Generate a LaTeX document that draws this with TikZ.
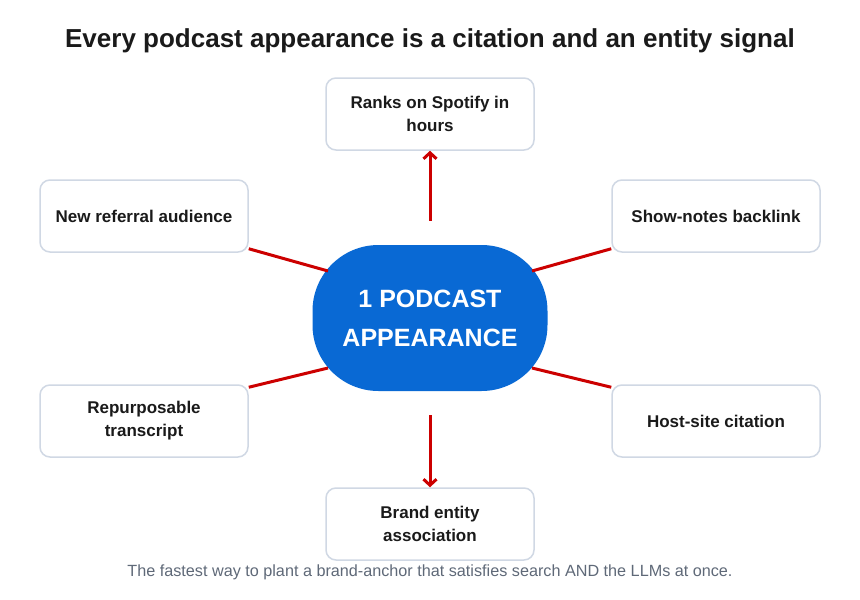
\documentclass[tikz,border=0pt]{standalone}
\usepackage{fontspec}
\setmainfont{Liberation Sans}
\usetikzlibrary{arrows.meta,calc}
\definecolor{cblue}{RGB}{9,105,212}
\definecolor{cred}{RGB}{204,0,0}
\definecolor{cborder}{RGB}{208,216,228}
\definecolor{cgrey}{RGB}{95,105,120}
\definecolor{ctext}{RGB}{26,26,26}
\begin{document}
\begin{tikzpicture}[x=1pt,y=-1pt,
  box/.style={draw=cborder, line width=1.5pt, fill=white, rounded corners=10pt,
    minimum width=208pt, minimum height=72pt, inner sep=0pt, align=center,
    font=\fontsize{17}{23}\selectfont\bfseries, text=ctext},
  hub/.style={fill=cblue, rounded corners=66pt, minimum width=235pt, minimum height=146pt,
    inner sep=0pt, align=center, text=white, font=\fontsize{25}{39}\selectfont\bfseries},
  link/.style={draw=cred, line width=3pt},
  arrowlink/.style={link, -{Straight Barb[length=6pt,width=13pt,line width=3pt]}}
]
\useasboundingbox (0,0) rectangle (860,600);
\fill[white] (0,0) rectangle (860,600);
\node[font=\fontsize{26}{30}\selectfont\bfseries, text=ctext] (title) at (430,41) {Every podcast appearance is a citation and an entity signal};
\node[hub] (c) at (430,318) {1 PODCAST\\APPEARANCE};
\node[box] (top) at (430,114) {Ranks on Spotify in\\hours};
\node[box] (lt) at (144,216) {New referral audience};
\node[box] (rt) at (716,216) {Show-notes backlink};
\node[box] (lb) at (144,421) {Repurposable\\transcript};
\node[box] (rb) at (716,421) {Host-site citation};
\node[box] (bot) at (430,524) {Brand entity\\association};
\node[font=\fontsize{16.2}{19}\selectfont, text=cgrey] (cap) at (430,572) {The fastest way to plant a brand-anchor that satisfies search AND the LLMs at once.};
\draw[arrowlink, shorten <=24pt] (c) -- (top);
\draw[arrowlink, shorten <=24pt] (c) -- (bot);
\draw[link] ($(lt.south east)+(0,-4)$) -- ($(c.center)+(-102,-47)$);
\draw[link] ($(rt.south west)+(0,-4)$) -- ($(c.center)+(102,-47)$);
\draw[link] ($(lb.north east)+(0,3)$) -- ($(c.center)+(-102,50)$);
\draw[link] ($(rb.north west)+(0,3)$) -- ($(c.center)+(102,50)$);
\end{tikzpicture}
\end{document}
